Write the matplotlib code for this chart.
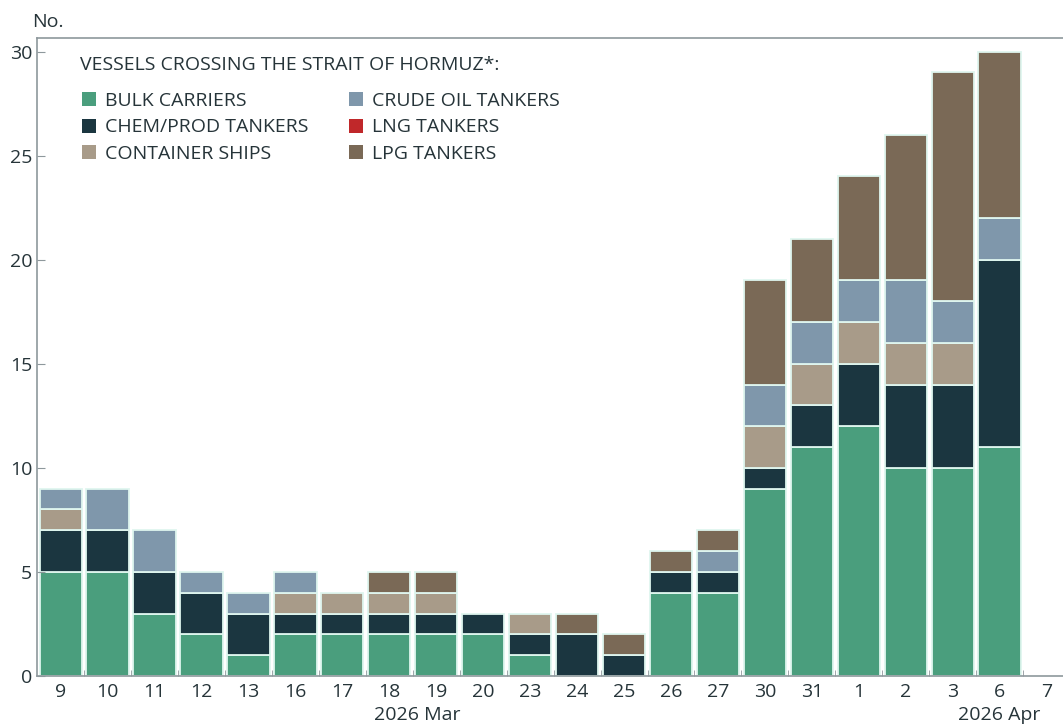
import numpy as np
import matplotlib
matplotlib.use("Agg")
import matplotlib.pyplot as plt
from matplotlib.patches import Patch
from matplotlib.transforms import blended_transform_factory

plt.rcParams['font.family'] = ['Open Sans', 'DejaVu Sans']

# Datos: buques que cruzan el estrecho de Ormuz por día
dias = ["9", "10", "11", "12", "13", "16", "17", "18", "19", "20", "23",
        "24", "25", "26", "27", "30", "31", "1", "2", "3", "6", "7"]
bulk      = [5, 5, 3, 2, 1, 2, 2, 2, 2, 2, 1, 0, 0, 4, 4, 9, 11, 12, 10, 10, 11, 0]
chem      = [2, 2, 2, 2, 2, 1, 1, 1, 1, 1, 1, 2, 1, 1, 1, 1, 2, 3, 4, 4, 9, 0]
container = [1, 0, 0, 0, 0, 1, 1, 1, 1, 0, 1, 0, 0, 0, 0, 2, 2, 2, 2, 2, 0, 0]
crude     = [1, 2, 2, 1, 1, 1, 0, 0, 0, 0, 0, 0, 0, 0, 1, 2, 2, 2, 3, 2, 2, 0]
lng       = [0] * 22
lpg       = [0, 0, 0, 0, 0, 0, 0, 1, 1, 0, 0, 1, 1, 1, 1, 5, 4, 5, 7, 11, 8, 0]

series = [
    ("BULK CARRIERS", bulk, "#4a9e7d"),
    ("CHEM/PROD TANKERS", chem, "#1b3640"),
    ("CONTAINER SHIPS", container, "#a89b89"),
    ("CRUDE OIL TANKERS", crude, "#7f97ab"),
    ("LNG TANKERS", lng, "#c0282a"),
    ("LPG TANKERS", lpg, "#7a6956"),
]

texto = "#263439"
gris = "#8e989c"
fs = 14

fig = plt.figure(figsize=(10.63, 7.25), dpi=100)
ax = fig.add_axes([0.035, 0.0676, 0.965, 0.88])

x = np.arange(len(dias))
base = np.zeros(len(dias))
handles = []
for nombre, vals, color in series:
    vals = np.array(vals, dtype=float)
    bordes = ["#dff6ef" if v > 0 else "none" for v in vals]
    ax.bar(x, vals, bottom=base, width=0.9, color=color,
           edgecolor=bordes, linewidth=1.3)
    base += vals
    handles.append(Patch(facecolor=color, edgecolor="none", label=nombre))

ax.set_xlim(-0.5, 21.35)
ax.set_ylim(0, 30.65)

ax.set_yticks([0, 5, 10, 15, 20, 25, 30])
ax.tick_params(axis="y", direction="in", length=6, color=gris,
               labelsize=fs, labelcolor=texto, pad=3.5)
ax.set_xticks(x)
ax.set_xticklabels(dias)
ax.tick_params(axis="x", length=0, labelsize=fs, labelcolor=texto, pad=5)
ax.set_xticks(x[:-1] + 0.5, minor=True)
ax.tick_params(axis="x", which="minor", direction="in", length=4, color=gris)

for lado in ["left", "top", "bottom"]:
    ax.spines[lado].set_color(gris)
    ax.spines[lado].set_linewidth(1.2)
ax.spines["right"].set_visible(False)

trans = blended_transform_factory(ax.transData, ax.transAxes)
ax.text(7.6, -0.061, "2026 Mar", transform=trans, ha="center", va="center",
        fontsize=fs, color=texto)
ax.text(20.0, -0.061, "2026 Apr", transform=trans, ha="center", va="center",
        fontsize=fs, color=texto)

fig.text(0.030, 0.970, "No.", ha="left", va="center", fontsize=fs, color=texto)

# Leyenda: título aparte y entradas en dos columnas
ax.text(0.042, 0.958, "VESSELS CROSSING THE STRAIT OF HORMUZ*:",
        transform=ax.transAxes, ha="left", va="center", fontsize=fs, color=texto)
leg = ax.legend(handles=handles, ncol=2, loc="upper left",
                bbox_to_anchor=(0.044, 0.915), frameon=False,
                fontsize=fs, handlelength=0.72, handleheight=0.72,
                handletextpad=0.45, labelspacing=0.42, columnspacing=2.1,
                borderaxespad=0, borderpad=0)
for t in leg.get_texts():
    t.set_color(texto)

fig.savefig("out.png", dpi=100)
